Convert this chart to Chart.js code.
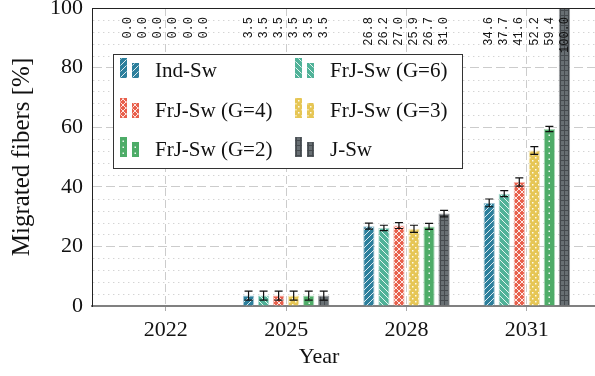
<!DOCTYPE html>
<html>
<head>
<meta charset="utf-8">
<style>
html, body { margin: 0; padding: 0; background: #fff; overflow: hidden; }
</style>
</head>
<body>
<canvas id="myChart" width="595" height="376"></canvas>
<script src="https://cdn.jsdelivr.net/npm/chart.js@4.4.0/dist/chart.umd.min.js"></script>
<script>
// data
const years = [2022, 2025, 2028, 2031];
const seriesNames = ['Ind-Sw', 'FrJ-Sw (G=6)', 'FrJ-Sw (G=4)', 'FrJ-Sw (G=3)', 'FrJ-Sw (G=2)', 'J-Sw'];
const indSw = [0.0, 3.5, 26.8, 34.6];
const frj6  = [0.0, 3.5, 26.2, 37.7];
const frj4  = [0.0, 3.5, 27.0, 41.6];
const frj3  = [0.0, 3.5, 25.9, 52.2];
const frj2  = [0.0, 3.5, 26.7, 59.4];
const jSw   = [0.0, 3.5, 31.0, 100.0];
// half error bar sizes
const indSwErr = [0, 1.5, 1.0, 1.3];
const frj6Err  = [0, 1.5, 0.9, 1.0];
const frj4Err  = [0, 1.5, 1.0, 1.4];
const frj3Err  = [0, 1.5, 1.2, 1.3];
const frj2Err  = [0, 1.5, 1.0, 0.9];
const jSwErr   = [0, 1.5, 1.1, 0];
const yTicks = [0, 20, 40, 60, 80, 100];
const yMinorStep = 4;

const serif = 'Liberation Serif';
Chart.defaults.font.family = serif;

function makePattern(w, h, bg, draw) {
    const c = document.createElement('canvas');
    c.width = w; c.height = h;
    const g = c.getContext('2d');
    g.fillStyle = bg;
    g.fillRect(0, 0, w, h);
    draw(g, w, h);
    return g.createPattern(c, 'repeat');
}
function diag(g, w, h, dir) {
    g.strokeStyle = 'rgba(255,255,255,0.85)';
    g.lineWidth = 1;
    g.beginPath();
    for (let k = -1; k <= 1; k++) {
        if (dir > 0) { g.moveTo(k * w, h); g.lineTo(k * w + w, 0); }
        else { g.moveTo(k * w, 0); g.lineTo(k * w + w, h); }
    }
    g.stroke();
}
function dots(g, pts) {
    g.fillStyle = 'rgba(255,255,255,0.9)';
    pts.forEach(p => g.fillRect(p[0], p[1], 1.5, 1.5));
}

const colors = ['#2c7f9c', '#50b298', '#e8604c', '#e6c655', '#4eac68', '#686f73'];
const patterns = [
    makePattern(6, 6, colors[0], (g, w, h) => diag(g, w, h, 1)),
    makePattern(6, 6, colors[1], (g, w, h) => diag(g, w, h, -1)),
    makePattern(6, 6, colors[2], (g, w, h) => { diag(g, w, h, 1); diag(g, w, h, -1); }),
    makePattern(6, 6, colors[3], g => dots(g, [[1, 1], [4, 4]])),
    makePattern(6, 6, colors[4], g => dots(g, [[2.5, 2.5]])),
    makePattern(4, 5, colors[5], g => {
        g.fillStyle = '#464b4f';
        g.fillRect(0, 0, 4, 1);
        g.fillRect(0, 0, 1, 5);
    })
];
const borders = ['rgba(44,127,156,0.45)', 'rgba(80,178,152,0.45)', 'rgba(232,96,76,0.45)',
                 'rgba(230,198,85,0.45)', 'rgba(78,172,104,0.45)', 'rgba(80,85,90,0.6)'];

const values = [indSw, frj6, frj4, frj3, frj2, jSw];
const errors = [indSwErr, frj6Err, frj4Err, frj3Err, frj2Err, jSwErr];

const datasets = values.map((vals, i) => ({
    label: seriesNames[i],
    data: vals.map((v, j) => ({x: years[j], y: v})),
    errors: errors[i],
    backgroundColor: patterns[i],
    borderColor: borders[i],
    borderWidth: 1,
    categoryPercentage: 0.75,
    barPercentage: 0.75
}));

const minorGrid = {
    id: 'minorGrid',
    beforeDatasetsDraw(chart) {
        const {ctx, chartArea: a, scales: {y}} = chart;
        ctx.save();
        ctx.strokeStyle = '#d4d4d4';
        ctx.lineWidth = 1;
        ctx.setLineDash([1.4, 3.6]);
        for (let v = yMinorStep; v < 100; v += yMinorStep) {
            if (v % 20 === 0) continue;
            const py = Math.round(y.getPixelForValue(v)) + 0.5;
            ctx.beginPath();
            ctx.moveTo(a.left + 1, py);
            ctx.lineTo(a.right, py);
            ctx.stroke();
        }
        ctx.restore();
    }
};

const extras = {
    id: 'extras',
    afterDatasetsDraw(chart) {
        const {ctx, chartArea: a, scales: {y}} = chart;
        ctx.save();
        // top frame line
        ctx.strokeStyle = '#222';
        ctx.lineWidth = 1;
        ctx.beginPath();
        ctx.moveTo(a.left, a.top + 0.5);
        ctx.lineTo(a.right, a.top + 0.5);
        ctx.stroke();
        chart.data.datasets.forEach((ds, i) => {
            const meta = chart.getDatasetMeta(i);
            meta.data.forEach((el, j) => {
                const v = ds.data[j].y;
                const e = ds.errors[j];
                // error bars
                if (e > 0) {
                    const y1 = y.getPixelForValue(v + e), y2 = y.getPixelForValue(v - e);
                    ctx.strokeStyle = '#111';
                    ctx.lineWidth = 1.2;
                    ctx.beginPath();
                    ctx.moveTo(el.x, y1); ctx.lineTo(el.x, y2);
                    ctx.moveTo(el.x - 4, y1); ctx.lineTo(el.x + 4, y1);
                    ctx.moveTo(el.x - 4, y2); ctx.lineTo(el.x + 4, y2);
                    ctx.stroke();
                }
                // value labels
                ctx.save();
                ctx.translate(el.x, a.top + 9);
                ctx.rotate(-Math.PI / 2);
                ctx.fillStyle = '#111';
                ctx.font = '12px "Liberation Mono"';
                ctx.textAlign = 'right';
                ctx.textBaseline = 'middle';
                ctx.fillText(v.toFixed(1), 0, 0);
                ctx.restore();
            });
        });
        ctx.restore();
    },
    afterDraw(chart) {
        const {ctx} = chart;
        ctx.save();
        // x axis title
        ctx.fillStyle = '#111';
        ctx.font = '22px "Liberation Serif"';
        ctx.textAlign = 'center';
        ctx.textBaseline = 'middle';
        ctx.fillText('Year', 319, 357);
        // legend
        ctx.fillStyle = '#fff';
        ctx.strokeStyle = '#333';
        ctx.lineWidth = 1;
        ctx.fillRect(113.5, 54.5, 349, 114);
        ctx.strokeRect(113.5, 54.5, 349, 114);
        const colX = [120, 295];
        const rowBottom = [78, 118, 157];
        chart.data.datasets.forEach((ds, i) => {
            const x = colX[i % 2], b = rowBottom[Math.floor(i / 2)];
            ctx.fillStyle = ds.backgroundColor;
            ctx.strokeStyle = ds.borderColor;
            ctx.fillRect(x, b - 20, 7, 20);
            ctx.strokeRect(x + 0.5, b - 19.5, 6, 19);
            ctx.fillRect(x + 12, b - 15, 7, 15);
            ctx.strokeRect(x + 12.5, b - 14.5, 6, 14);
            ctx.fillStyle = '#111';
            ctx.font = '21px "Liberation Serif"';
            ctx.textAlign = 'left';
            ctx.textBaseline = 'middle';
            ctx.fillText(ds.label, x + 35, b - 7);
        });
        ctx.restore();
    }
};

const ctx = document.getElementById('myChart').getContext('2d');
const chart = new Chart(ctx, {
    type: 'bar',
    data: {datasets: datasets},
    plugins: [minorGrid, extras],
    options: {
        responsive: false,
        animation: false,
        devicePixelRatio: 1,
        layout: {padding: {top: 8, left: 0, right: 0, bottom: 0}},
        plugins: {legend: {display: false}, tooltip: {enabled: false}},
        scales: {
            x: {
                type: 'linear',
                offset: false,
                min: 2020.16,
                max: 2032.70,
                afterBuildTicks: s => { s.ticks = years.map(v => ({value: v})); },
                afterFit: s => { s.height = 70; s.paddingLeft = 0; s.paddingRight = 0; },
                ticks: {callback: v => String(v), font: {size: 22}, color: '#111', padding: 6, maxRotation: 0},
                grid: {offset: false, color: '#cccccc', tickLength: 5, tickColor: '#aaaaaa'},
                border: {color: '#808080', width: 2, dash: [8, 4]},
                title: {display: false}
            },
            y: {
                min: 0,
                max: 100,
                afterBuildTicks: s => { s.ticks = yTicks.map(v => ({value: v})); },
                afterFit: s => { s.width = 92; s.paddingTop = 0; s.paddingBottom = 0; },
                ticks: {font: {size: 22}, color: '#111', padding: 9},
                grid: {color: '#cccccc', drawTicks: false},
                border: {color: '#222', width: 1, dash: [9, 4]},
                title: {display: true, text: 'Migrated fibers [%]', font: {size: 25}, color: '#111', padding: {top: 7, bottom: 0}}
            }
        }
    }
});
</script>
</body>
</html>
